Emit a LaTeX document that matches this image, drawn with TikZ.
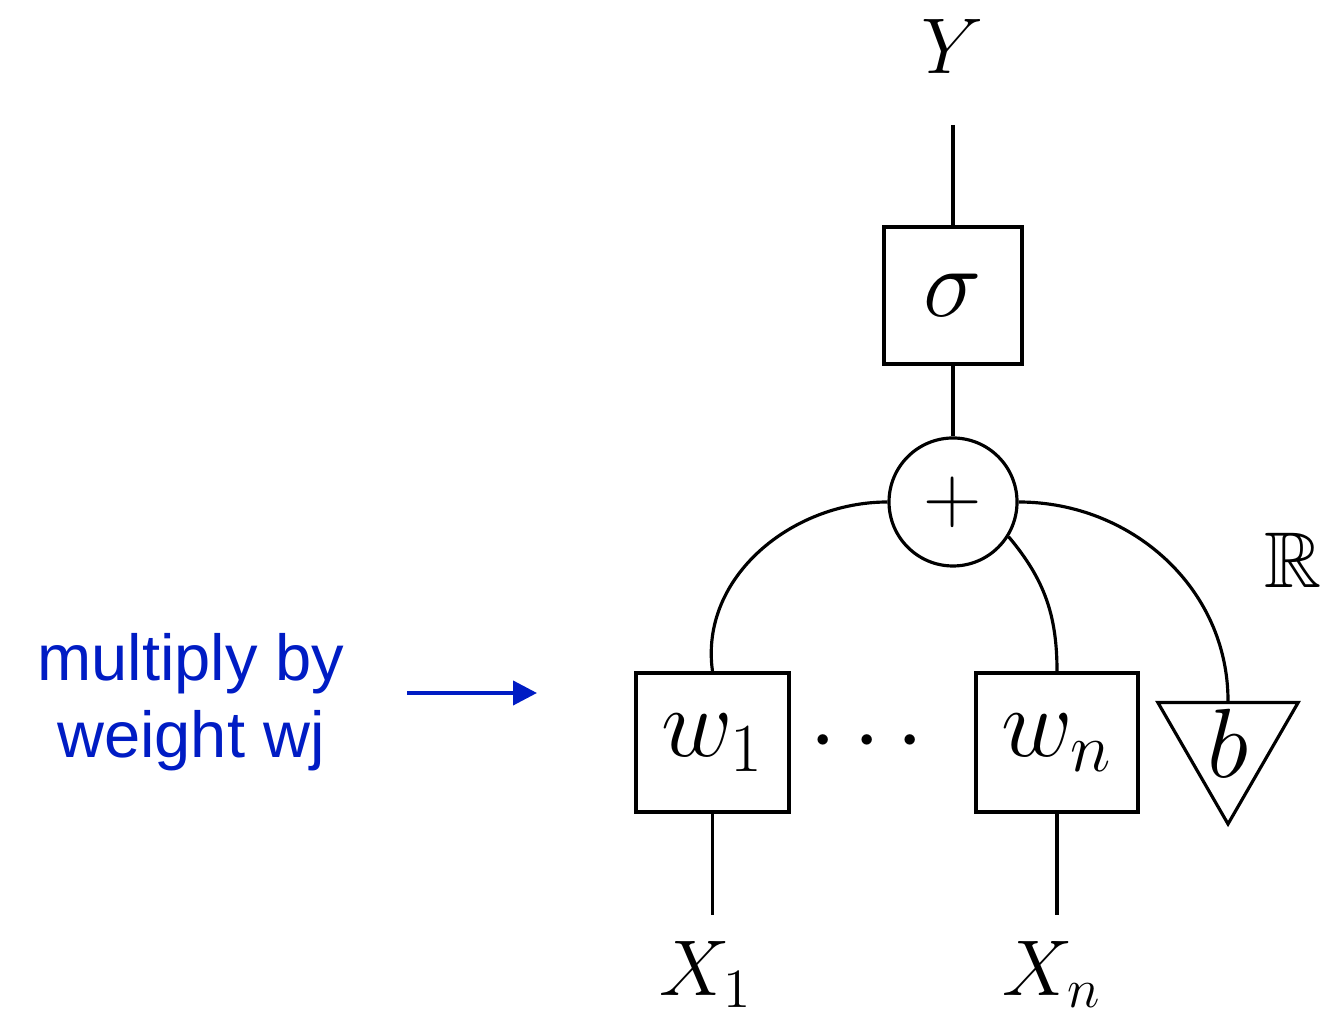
\RequirePackage{fix-cm}
\documentclass[tikz,border=0pt]{standalone}
\usepackage{amsmath}
\usepackage{amssymb}
\usepackage{fontspec}
\newfontfamily\notefont{Liberation Sans}
\usepackage{tikz}
\usetikzlibrary{shapes.geometric}
\usetikzlibrary{arrows.meta}
\definecolor{noteblue}{RGB}{0,28,196}

\begin{document}
\begin{tikzpicture}[line width=0.9pt,
    gate/.style={draw, minimum height=1.39cm, inner sep=0pt, font=\fontsize{28}{32}\selectfont},
    wire/.style={font=\fontsize{22.5}{26}\selectfont, inner sep=0pt}]
      \useasboundingbox (0,0) rectangle (13.23,10.17);
      % the neuron
      \node [wire, anchor=base] (out) at (9.53,9.43) {$Y$};
      \coordinate (outend) at (9.53,8.92);
      \node [gate, minimum width=1.38cm, minimum height=1.37cm] (act) at (9.53,7.215) {$\sigma$};
      \node [draw, circle, minimum size=1.28cm, inner sep=0pt, font=\fontsize{23}{27}\selectfont] (sum) at (9.53,5.15) {$+$};
      \node [gate, minimum width=1.53cm] (wone) at (7.125,2.745) {$w_1$};
      \node [font=\fontsize{28}{32}\selectfont] (dots) at (8.75,2.74) {$\cdots$};
      \node [gate, minimum width=1.62cm] (wlast) at (10.57,2.745) {$w_n$};
      \node [draw, regular polygon, regular polygon sides=3, shape border rotate=180,
             minimum size=1.62cm, inner sep=0pt,
             label={[font=\fontsize{28}{32}\selectfont, inner sep=0pt]center:$b$}] (bias) at (12.28,2.74) {};
      \node [wire, anchor=base] (reals) at (12.93,4.29) {$\mathbb{R}$};
      \coordinate (inone) at (7.125,1.02);
      \coordinate (inlast) at (10.57,1.02);
      \node [wire, anchor=base] (xone) at (7.06,0.21) {$X_1$};
      \node [wire, anchor=base] (xlast) at (10.52,0.21) {$X_n$};
      \draw (outend) -- (act.north);
      \draw (act.south) -- (sum.north);
      \draw (sum.west) to[out=180,in=98] (wone.north);
      \draw (sum.-32) to[out=-50,in=90] (wlast.north);
      \draw (sum.east) to[out=0,in=90] (bias.north);
      \draw (wone.south) -- (inone);
      \draw (wlast.south) -- (inlast);
      % the note
      \node [align=center, text=noteblue, font=\notefont\fontsize{18.5}{22}\selectfont] (note) at (1.91,3.15) {multiply by\\weight wj};
      \coordinate (notefrom) at (4.07,3.24);
      \coordinate (noteto) at (5.37,3.24);
      \draw [noteblue, line width=1.15pt, -{Triangle[length=2.4mm,width=2.4mm]}] (notefrom) -- (noteto);
\end{tikzpicture}
\end{document}
